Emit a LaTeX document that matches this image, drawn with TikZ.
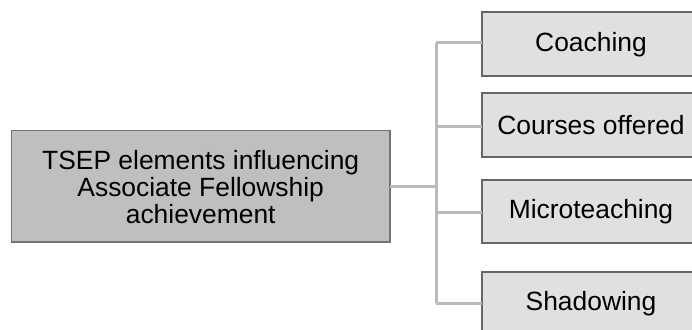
\documentclass[tikz,border=0pt]{standalone}
\usepackage{fontspec}
\setmainfont{Liberation Sans}
\begin{document}
\begin{tikzpicture}[x=1pt,y=-1pt,
  rootbox/.style={draw=black!55,line width=1.3pt,fill=black!25,inner sep=0pt},
  leafbox/.style={draw=black!60,line width=1.3pt,fill=black!12,inner sep=0pt},
  boxtext/.style={font=\fontsize{26.4}{27}\selectfont,align=center},
  link/.style={draw=black!27,line width=3pt}]
\useasboundingbox (0,0) rectangle (692,329);
\clip (0,0) rectangle (692,329);

% root box
\path[rootbox] (11.5,130.5) rectangle (390,242);
\node[boxtext] (root) at (200.7,187.5) {TSEP elements influencing\\Associate Fellowship\\achievement};
\coordinate (rootE) at (390,186);

% leaf boxes
\path[leafbox] (482,12) rectangle (700,76);
\node[boxtext] (coach) at (591,44.5) {Coaching};
\path[leafbox] (482,93) rectangle (700,157);
\node[boxtext] (course) at (591,125.5) {Courses offered};
\path[leafbox] (482,180) rectangle (700,243);
\node[boxtext] (micro) at (591,212) {Microteaching};
\path[leafbox] (482,272) rectangle (700,335);
\node[boxtext] (shadow) at (591,304) {Shadowing};

\coordinate (coachW) at (482,43);
\coordinate (courseW) at (482,126);
\coordinate (microW) at (482,212);
\coordinate (shadowW) at (482,303);
\coordinate (trunkT) at (436,43);
\coordinate (trunkB) at (436,303);

% connectors
\draw[link] (rootE) -- (rootE -| trunkT);
\draw[link] (trunkT) -- (trunkB);
\draw[link] (trunkT) -- (coachW);
\draw[link] (courseW -| trunkT) -- (courseW);
\draw[link] (microW -| trunkT) -- (microW);
\draw[link] (trunkB) -- (shadowW);
\end{tikzpicture}
\end{document}
